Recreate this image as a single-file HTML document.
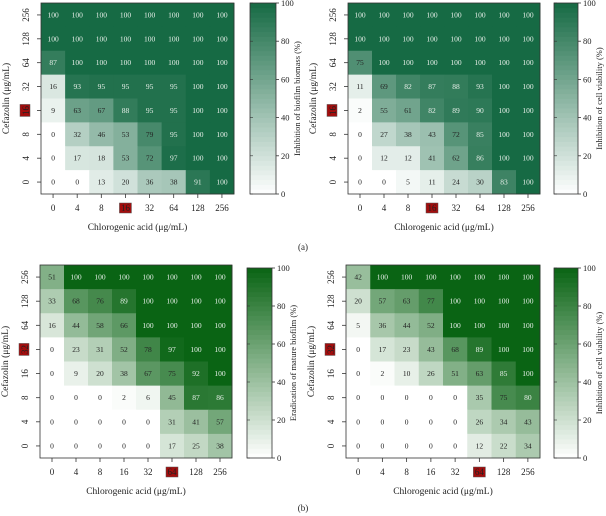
<!DOCTYPE html>
<html><head><meta charset="utf-8"><style>
body{margin:0;background:#fff;}
svg{display:block;font-family:"Liberation Serif",serif;}
</style></head><body>
<svg id="fig" width="606" height="516" viewBox="0 0 606 516"></svg>
<script>
const xCats=["0","4","8","16","32","64","128","256"];
const yCatsA=["256","128","64","32","16","8","4","0"];
const yCatsB=["256","128","64","32","16","8","4","0"];
const cbTicks=[0,20,40,60,80,100];
// rows listed top (256) to bottom (0)
const biomassA=[
[100,100,100,100,100,100,100,100],
[100,100,100,100,100,100,100,100],
[87,100,100,100,100,100,100,100],
[16,93,95,95,95,95,100,100],
[9,63,67,88,95,95,100,100],
[0,32,46,53,79,95,100,100],
[0,17,18,53,72,97,100,100],
[0,0,13,20,36,38,91,100]];
const viabilityA=[
[100,100,100,100,100,100,100,100],
[100,100,100,100,100,100,100,100],
[75,100,100,100,100,100,100,100],
[11,69,82,87,88,93,100,100],
[2,55,61,82,89,90,100,100],
[0,27,38,43,72,85,100,100],
[0,12,12,41,62,86,100,100],
[0,0,5,11,24,30,83,100]];
const eradicationB=[
[51,100,100,100,100,100,100,100],
[33,68,76,89,100,100,100,100],
[16,44,58,66,100,100,100,100],
[0,23,31,52,78,97,100,100],
[0,9,20,38,67,75,92,100],
[0,0,0,2,6,45,87,86],
[0,0,0,0,0,31,41,57],
[0,0,0,0,0,17,25,38]];
const viabilityB=[
[42,100,100,100,100,100,100,100],
[20,57,63,77,100,100,100,100],
[5,36,44,52,100,100,100,100],
[0,17,23,43,68,89,100,100],
[0,2,10,26,51,63,85,100],
[0,0,0,0,0,35,75,80],
[0,0,0,0,0,26,34,43],
[0,0,0,0,0,12,22,34]];

const NS="http://www.w3.org/2000/svg";
const svg=document.getElementById('fig');
function mk(tag,attrs,parent){const e=document.createElementNS(NS,tag);for(const k in attrs)e.setAttribute(k,attrs[k]);(parent||svg).appendChild(e);return e;}
function col(v,dark){const t=v/100;const r=Math.round(255+(dark[0]-255)*t),g=Math.round(255+(dark[1]-255)*t),b=Math.round(255+(dark[2]-255)*t);return `rgb(${r},${g},${b})`;}

function panel(cfg){
  const g=mk('g',{});
  
  
  const n=8,cw=(cfg.x1-cfg.x0)/n,ch=(cfg.y1-cfg.y0)/n;
  const xs=i=>cfg.x0+i*cw, ys=j=>cfg.y0+j*ch;
  cfg.data.forEach((row,j)=>row.forEach((v,i)=>{
    const r=mk('rect',{x:xs(i),y:ys(j),width:cw+0.4,height:ch+0.4,fill:col(v,cfg.dark)},g);
    
    
    const t=mk('text',{x:xs(i)+cw/2,y:ys(j)+ch/2+2.5,'text-anchor':'middle','font-size':7.5,fill:v>=80?'#e8f0ea':'#222'},g);
    t.textContent=v;
    
    
  }));
  mk('rect',{x:cfg.x0,y:cfg.y0,width:cfg.x1-cfg.x0,height:cfg.y1-cfg.y0,fill:'none',stroke:'#333','stroke-width':0.8},g);
  xCats.forEach((c,i)=>{
    const cx=xs(i)+cw/2;
    mk('line',{x1:cx,x2:cx,y1:cfg.y1,y2:cfg.y1+4,stroke:'#333','stroke-width':0.8},g);
    if(c===cfg.markX) mk('rect',{x:cx-6,y:cfg.y1+9,width:12,height:10,fill:'#a30d0d',stroke:'#555','stroke-width':0.5},g);
    const t=mk('text',{x:cx,y:cfg.y1+17,'text-anchor':'middle','font-size':9,fill:'#222'},g);
    t.textContent=c;
    
    
  });
  cfg.yCats.forEach((c,j)=>{
    const cy=ys(j)+ch/2;
    mk('line',{x1:cfg.x0-4,x2:cfg.x0,y1:cy,y2:cy,stroke:'#333','stroke-width':0.8},g);
    const tx=cfg.x0-15;
    if(c===cfg.markY) mk('rect',{x:tx-6,y:cy-6,width:10,height:12,fill:'#a30d0d',stroke:'#555','stroke-width':0.5},g);
    const t=mk('text',{x:tx,y:cy,'text-anchor':'middle','font-size':9,fill:'#222',transform:`rotate(-90 ${tx} ${cy}) translate(0 3)`},g);
    t.textContent=c;
    
    
  });
  const xt=mk('text',{x:(cfg.x0+cfg.x1)/2,y:cfg.y1+36,'text-anchor':'middle','font-size':9.5,fill:'#222'},g);
  xt.textContent='Chlorogenic acid (μg/mL)';
  
  
  const yx=cfg.x0-32,yy=(cfg.y0+cfg.y1)/2;
  const yt=mk('text',{x:yx,y:yy,'text-anchor':'middle','font-size':9.5,fill:'#222',transform:`rotate(-90 ${yx} ${yy})`},g);
  yt.textContent='Cefazolin (μg/mL)';
  
  
  const cb=mk('g',{},g);
  
  
  const steps=40,bh=(cfg.cy1-cfg.cy0)/steps;
  for(let s=0;s<steps;s++){
    mk('rect',{x:cfg.cx0,y:cfg.cy1-(s+1)*bh,width:cfg.cw,height:bh+0.4,fill:col((s+0.5)/steps*100,cfg.dark)},cb);
  }
  mk('rect',{x:cfg.cx0,y:cfg.cy0,width:cfg.cw,height:cfg.cy1-cfg.cy0,fill:'none',stroke:'#333','stroke-width':0.8},cb);
  cbTicks.forEach(v=>{
    const y=cfg.cy1-(v/100)*(cfg.cy1-cfg.cy0);
    mk('line',{x1:cfg.cx0+cfg.cw,x2:cfg.cx0+cfg.cw+3,y1:y,y2:y,stroke:'#333','stroke-width':0.8},cb);
    mk('line',{x1:cfg.cx0,x2:cfg.cx0+3,y1:y,y2:y,stroke:'#333','stroke-width':0.6},cb);
    const t=mk('text',{x:cfg.cx0+cfg.cw+5,y:y+3,'font-size':8.5,fill:'#222'},cb);
    t.textContent=v;
    
    
  });
  const lx=cfg.cx0+cfg.cw+24,ly=(cfg.cy0+cfg.cy1)/2;
  const lt=mk('text',{x:lx,y:ly,'text-anchor':'middle','font-size':8.5,fill:'#222',transform:`rotate(-90 ${lx} ${ly})`},cb);
  lt.textContent=cfg.cbTitle;
  
  
}
const greenA=[22,106,68], greenB=[10,100,20];
panel({name:'heatmap-biomass-a',data:biomassA,yCats:yCatsA,x0:41,x1:234,y0:3,y1:194,cx0:250,cw:26,cy0:3,cy1:194,dark:greenA,markX:'16',markY:'16',cbTitle:'Inhibition of biofilm biomass (%)'});
panel({name:'heatmap-viability-a',data:viabilityA,yCats:yCatsA,x0:348,x1:540,y0:3,y1:194,cx0:554,cw:24,cy0:3,cy1:194,dark:greenA,markX:'16',markY:'16',cbTitle:'Inhibition of cell viability (%)'});
panel({name:'heatmap-eradication-b',data:eradicationB,yCats:yCatsB,x0:40,x1:232,y0:265,y1:458,cx0:247,cw:25,cy0:268,cy1:458,dark:greenB,markX:'64',markY:'32',cbTitle:'Eradication of mature biofilm (%)'});
panel({name:'heatmap-viability-b',data:viabilityB,yCats:yCatsB,x0:346,x1:540,y0:265,y1:458,cx0:554,cw:24,cy0:268,cy1:458,dark:greenB,markX:'64',markY:'32',cbTitle:'Inhibition of cell viability (%)'});
const la=mk('text',{x:303,y:250,'text-anchor':'middle','font-size':9,fill:'#222'});
la.textContent='(a)';


const lb=mk('text',{x:303,y:511,'text-anchor':'middle','font-size':9,fill:'#222'});
lb.textContent='(b)';


</script>
</body></html>
